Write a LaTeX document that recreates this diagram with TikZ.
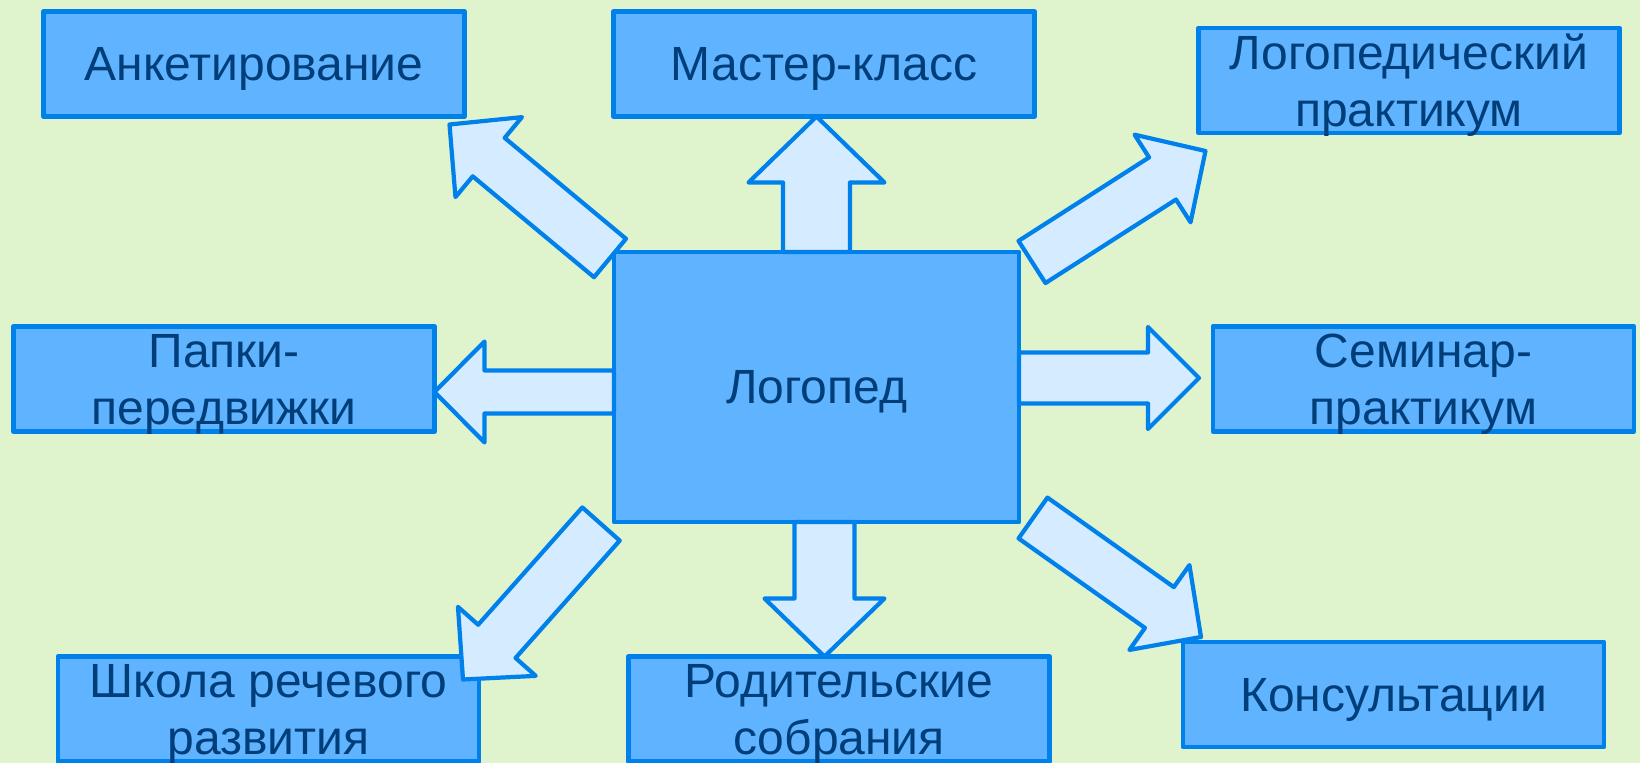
\documentclass[tikz,border=0pt]{standalone}
\usepackage{fontspec}
\setmainfont{Liberation Sans}
\usetikzlibrary{calc}

\definecolor{bgcol}{HTML}{DFF3CD}
\definecolor{boxcol}{HTML}{60B4FF}
\definecolor{edgecol}{HTML}{0080EA}
\definecolor{arrcol}{HTML}{D5EBFF}
\definecolor{txtcol}{HTML}{003E7A}

% block arrow: tail, tip, shaft half width, head half width, head length
\newcommand\fatarrow[5]{%
  \coordinate (hb) at ($(#2)!#5!(#1)$);
  \draw[fat] ($(#1)!#3!90:(#2)$) -- ($(hb)!#3!90:(#2)$) -- ($(hb)!#4!90:(#2)$)
    -- (#2) -- ($(hb)!#4!-90:(#2)$) -- ($(hb)!#3!-90:(#2)$)
    -- ($(#1)!#3!-90:(#2)$) -- cycle;
}

\begin{document}
\begin{tikzpicture}[
    x=0.5pt, y=-0.5pt,
    box/.style={draw=edgecol, fill=boxcol, line width=2.4pt, line join=round,
        minimum width=210.5pt, minimum height=52.5pt, inner sep=0pt, outer sep=0pt,
        text depth=0pt, align=center, text=txtcol, font=\fontsize{24}{28.5}\selectfont},
    hub/.style={box, minimum width=202.5pt, minimum height=135pt},
    fat/.style={draw=edgecol, fill=arrcol, line width=2.1pt, line join=round},
  ]
  \fill[bgcol] (0,0) rectangle (1640,763);
  \useasboundingbox (0,0) rectangle (1640,763);

  \node[hub] (logoped) at (816.5,387) {Логопед};

  \node[box] (ankety) at (254,64) {Анкетирование};
  \node[box] (master) at (824,64) {Мастер-класс};
  \node[box] (logoprakt) at (1409,80.5) {Логопедический\\практикум};

  \node[box] (papki) at (224,379) {Папки-\\передвижки};
  \node[box] (seminar) at (1423.5,379) {Семинар-\\практикум};

  \node[box] (shkola) at (268.5,709) {Школа речевого\\развития};
  \node[box] (roditel) at (839,709) {Родительские\\собрания};
  \node[box] (konsult) at (1393.5,694.5) {Консультации};

  % arrow ends
  \coordinate (tN) at (logoped.north);
  \coordinate (hN) at (logoped.north |- master.south);
  \coordinate (tS) at ($(logoped.south)+(8,0)$);
  \coordinate (hS) at (tS |- roditel.north);
  \coordinate (tW) at ($(logoped.west)+(0,5)$);
  \coordinate (hW) at (tW -| papki.east);
  \coordinate (tE) at ($(logoped.east)+(0,-9)$);
  \coordinate (hE) at ($(tE -| seminar.west)+(-14,0)$);
  \coordinate (tNW) at ($(logoped.north west)+(-4,6)$);
  \coordinate (hNW) at ($(ankety.south east)+(-15,8)$);
  \coordinate (tNE) at ($(logoped.north east)+(13,10)$);
  \coordinate (hNE) at ($(logoprakt.south west)+(7,18)$);
  \coordinate (tSE) at ($(logoped.south east)+(14,-4)$);
  \coordinate (hSE) at ($(konsult.north west)+(18,-5)$);
  \coordinate (tSW) at ($(logoped.south west)+(-13,2)$);
  \coordinate (hSW) at ($(shkola.north east)+(-16,23)$);

  \fatarrow{tN}{hN}{16.75pt}{34pt}{33pt}
  \fatarrow{tS}{hS}{15pt}{30pt}{29pt}
  \fatarrow{tW}{hW}{10.75pt}{25.25pt}{25pt}
  \fatarrow{tE}{hE}{12.75pt}{25.5pt}{25.5pt}
  \foreach \d in {NW,NE,SE,SW} {
      \fatarrow{t\d}{h\d}{12.5pt}{26pt}{25.5pt}
    }

\end{tikzpicture}
\end{document}
